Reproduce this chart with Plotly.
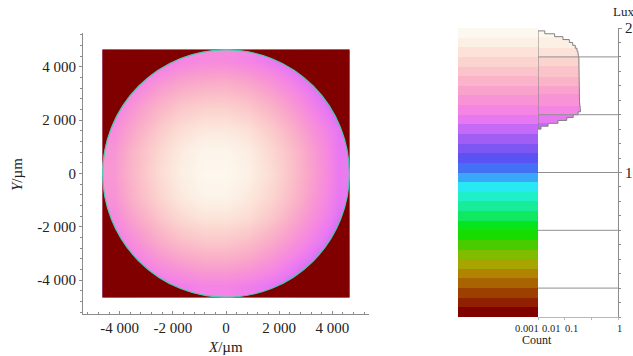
import plotly.graph_objects as go

# ---------------- data ----------------
# illuminance map (lux), 11 x 11 grid, rows from bottom (y=-) to top (y=+), columns left -> right
LUX_GRID = [
    [1.24, 1.30, 1.36, 1.40, 1.43, 1.43, 1.40, 1.36, 1.30, 1.25, 1.19],
    [1.31, 1.39, 1.48, 1.54, 1.58, 1.58, 1.55, 1.48, 1.39, 1.31, 1.24],
    [1.38, 1.49, 1.60, 1.68, 1.72, 1.72, 1.68, 1.60, 1.50, 1.39, 1.29],
    [1.45, 1.58, 1.70, 1.79, 1.84, 1.84, 1.80, 1.71, 1.59, 1.46, 1.34],
    [1.50, 1.65, 1.77, 1.87, 1.93, 1.93, 1.87, 1.78, 1.66, 1.51, 1.37],
    [1.52, 1.67, 1.80, 1.90, 1.96, 1.96, 1.91, 1.81, 1.68, 1.53, 1.38],
    [1.51, 1.66, 1.78, 1.88, 1.94, 1.94, 1.89, 1.79, 1.67, 1.52, 1.37],
    [1.46, 1.60, 1.72, 1.81, 1.86, 1.86, 1.82, 1.73, 1.61, 1.47, 1.36],
    [1.40, 1.52, 1.63, 1.71, 1.75, 1.75, 1.71, 1.63, 1.52, 1.40, 1.30],
    [1.33, 1.41, 1.51, 1.58, 1.61, 1.62, 1.58, 1.51, 1.42, 1.33, 1.25],
    [1.26, 1.32, 1.38, 1.43, 1.46, 1.46, 1.43, 1.38, 1.32, 1.26, 1.20],
]
SQUARE_MIN_UM = -4650
SQUARE_MAX_UM = 4650
CIRCLE_RADIUS_UM = 4640

LUX_MIN = 0.0
LUX_MAX = 2.0
# colour bands of the legend, from 0 lux (bottom) to 2 lux (top)
BAND_COLORS = [
    "#800000", "#902000", "#9c4000", "#a86400", "#b08400", "#a8a400",
    "#80bc00", "#48cc00", "#18dc00", "#08e41c", "#10e860", "#18ec98",
    "#20f0c8", "#28e8f4", "#3aa8f8", "#4470f6", "#5a52f2", "#7e56f2",
    "#a05ef4", "#c46af6", "#e878f2", "#f585e4", "#f893d6", "#f9a3cc",
    "#fab3c8", "#fbc3ca", "#fbd3cf", "#fce2d8", "#fcefe4", "#fdf8ef",
]

# histogram of the map (lux bins, width 0.02) and relative counts
HIST_BIN_LO = [1.30, 1.32, 1.34, 1.36, 1.38, 1.40, 1.42, 1.44, 1.46, 1.48,
               1.50, 1.52, 1.54, 1.56, 1.58, 1.60, 1.62, 1.64, 1.66, 1.68,
               1.70, 1.72, 1.74, 1.76, 1.78, 1.80, 1.82, 1.84, 1.86, 1.88,
               1.90, 1.92, 1.94, 1.96]
HIST_COUNT = [0.0013, 0.0024, 0.0056, 0.012, 0.021, 0.032, 0.039, 0.038, 0.037, 0.036,
              0.036, 0.035, 0.035, 0.035, 0.035, 0.035, 0.035, 0.035, 0.035, 0.035,
              0.035, 0.035, 0.034, 0.034, 0.034, 0.033, 0.031, 0.029, 0.025, 0.020,
              0.015, 0.0086, 0.0042, 0.0018]
HIST_BIN_WIDTH = 0.02
COUNT_MIN = 0.001
COUNT_MAX = 1.0

LUX_GRIDLINES = [0.2, 0.6, 1.0, 1.4, 1.8]
LUX_TICKS = [1, 2]
XY_TICKS = [-4000, -2000, 0, 2000, 4000]
XY_TICK_TEXT = ["-4 000", "-2 000", "0", "2 000", "4 000"]
COUNT_TICK_TEXT = ["0.001", "0.01", "0.1", "1"]

# ---------------- helpers ----------------
W, H = 633, 356
FONT = "Liberation Serif, Times New Roman, serif"
AXC = "#8c8c8c"

def px_x(p):
    return p / W

def px_y(p):
    return 1 - p / H

nb = len(BAND_COLORS)
discrete_scale = []
for k, c in enumerate(BAND_COLORS):
    discrete_scale.append([k / nb, c])
    discrete_scale.append([(k + 1) / nb, c])
smooth_scale = [[0.0, BAND_COLORS[0]]]
for k, c in enumerate(BAND_COLORS):
    smooth_scale.append([(k + 0.5) / nb, c])
smooth_scale.append([1.0, BAND_COLORS[-1]])

fig = go.Figure()

# ---- main illuminance map ----
n = len(LUX_GRID)
cell = (SQUARE_MAX_UM - SQUARE_MIN_UM) / n
fig.add_trace(go.Heatmap(
    z=LUX_GRID, x0=SQUARE_MIN_UM + cell / 2, dx=cell,
    y0=SQUARE_MIN_UM + cell / 2, dy=cell,
    zmin=LUX_MIN, zmax=LUX_MAX, colorscale=smooth_scale, zsmooth="best",
    showscale=False, xaxis="x", yaxis="y", hoverinfo="skip"))

# ---- colour legend bands ----
band_w = (LUX_MAX - LUX_MIN) / nb
band_centers = [LUX_MIN + (k + 0.5) * band_w for k in range(nb)]
fig.add_trace(go.Heatmap(
    z=[[v] for v in band_centers], x0=0, dx=1, y0=band_centers[0], dy=band_w,
    zmin=LUX_MIN, zmax=LUX_MAX, colorscale=discrete_scale, showscale=False,
    xaxis="x2", yaxis="y2", hoverinfo="skip"))

# ---- histogram ----
bin_centers = [lo + HIST_BIN_WIDTH / 2 for lo in HIST_BIN_LO]
fig.add_trace(go.Bar(
    x=HIST_COUNT, y=bin_centers, orientation="h", width=HIST_BIN_WIDTH,
    marker=dict(color=bin_centers, colorscale=discrete_scale, cmin=LUX_MIN,
                cmax=LUX_MAX, line=dict(width=0)),
    xaxis="x3", yaxis="y3", showlegend=False, hoverinfo="skip"))

ox, oy = [COUNT_MIN], [HIST_BIN_LO[0]]
for lo, c in zip(HIST_BIN_LO, HIST_COUNT):
    ox += [c, c]
    oy += [lo, lo + HIST_BIN_WIDTH]
ox += [COUNT_MIN, COUNT_MIN]
oy += [HIST_BIN_LO[-1] + HIST_BIN_WIDTH, HIST_BIN_LO[0]]
fig.add_trace(go.Scatter(
    x=ox, y=oy, mode="lines", line=dict(color="#808080", width=1),
    xaxis="x3", yaxis="y3", showlegend=False, cliponaxis=False, hoverinfo="skip"))

# ---- shapes: mask outside circle, circle rim, grid lines ----
S, R = SQUARE_MAX_UM, CIRCLE_RADIUS_UM
k = 0.5523 * R
mask = (f"M{-S},{-S} L{S},{-S} L{S},{S} L{-S},{S} Z "
        f"M{R},0 C{R},{k} {k},{R} 0,{R} C{-k},{R} {-R},{k} {-R},0 "
        f"C{-R},{-k} {-k},{-R} 0,{-R} C{k},{-R} {R},{-k} {R},0 Z")
shapes = [
    dict(type="path", path=mask, xref="x", yref="y", fillcolor=BAND_COLORS[0],
         fillrule="evenodd", line=dict(width=0), layer="above"),
    dict(type="circle", x0=-R, x1=R, y0=-R, y1=R, xref="x", yref="y",
         line=dict(color="#48c8b0", width=1.2), layer="above"),
]
for g in LUX_GRIDLINES:
    shapes.append(dict(type="line", xref="x3 domain", yref="y3", x0=0, x1=1,
                       y0=g, y1=g, line=dict(color="#909090", width=1),
                       layer="above"))

tickfont = dict(family=FONT, size=15, color="#222")
common = dict(showgrid=False, zeroline=False, showline=True, linecolor=AXC,
              linewidth=1, tickcolor=AXC, tickfont=tickfont, automargin=False)

fig.update_layout(
    template="none",
    width=W, height=H, margin=dict(l=0, r=0, t=0, b=0, pad=0, autoexpand=False),
    paper_bgcolor="white", plot_bgcolor="white", showlegend=False,
    font=dict(family=FONT, size=15, color="#222"),
    bargap=0,
    xaxis=dict(domain=[px_x(83), px_x(369)], range=[-5380, 5380], anchor="y",
               tickmode="array", tickvals=XY_TICKS, ticktext=XY_TICK_TEXT,
               ticks="inside", ticklen=3,
               minor=dict(ticks="inside", ticklen=2, tickmode="linear",
                          tick0=0, dtick=400, tickcolor=AXC), **common),
    yaxis=dict(domain=[px_y(314), px_y(33)], range=[-5270, 5270], anchor="x",
               tickmode="array", tickvals=XY_TICKS, ticktext=XY_TICK_TEXT,
               ticks="outside", ticklen=3,
               minor=dict(ticks="outside", ticklen=2, tickmode="linear",
                          tick0=0, dtick=400, tickcolor=AXC), **common),
    xaxis2=dict(domain=[px_x(458), px_x(538)], range=[-0.5, 0.5], anchor="y2",
                visible=False, automargin=False),
    yaxis2=dict(domain=[px_y(317), px_y(28)], range=[LUX_MIN, LUX_MAX],
                anchor="x2", visible=False, automargin=False),
    xaxis3=dict(domain=[px_x(538), px_x(618)], type="log",
                range=[-3, 0], anchor="y3", showgrid=False, zeroline=False,
                showline=True, linecolor="#b8b8b8", showticklabels=False,
                ticks="outside", ticklen=2, tickcolor="#b8b8b8",
                tickvals=[0.001, 0.01, 0.1, 1], automargin=False),
    yaxis3=dict(domain=[px_y(317), px_y(28)], range=[LUX_MIN, LUX_MAX],
                anchor="x3", side="right", tickmode="array",
                tickvals=LUX_TICKS, ticks="outside", ticklen=3,
                minor=dict(ticks="outside", ticklen=2, tickmode="linear",
                           tick0=0, dtick=0.1, tickcolor=AXC), **common),
    shapes=shapes,
)

ann = [
    dict(text="<i>X</i>/µm", x=px_x(225), y=px_y(347), size=15),
    dict(text="<i>Y</i>/µm", x=px_x(17), y=px_y(175), textangle=-90, size=15),
    dict(text="Count", x=px_x(537), y=px_y(340), size=12),
    dict(text="Lux", x=px_x(623), y=px_y(11), size=13),
]
for t, xp in zip(COUNT_TICK_TEXT, [527, 551, 571.5, 619.5]):
    ann.append(dict(text=t, x=px_x(xp), y=px_y(328), size=10.5))
for a in ann:
    sz = a.pop("size")
    a.update(xref="paper", yref="paper", showarrow=False, xanchor="center",
             yanchor="middle", font=dict(family=FONT, size=sz, color="#222"))
fig.update_layout(annotations=ann)

fig.write_html("out.html", config={"displayModeBar": False},
               post_script="document.body.style.margin='0px';")
